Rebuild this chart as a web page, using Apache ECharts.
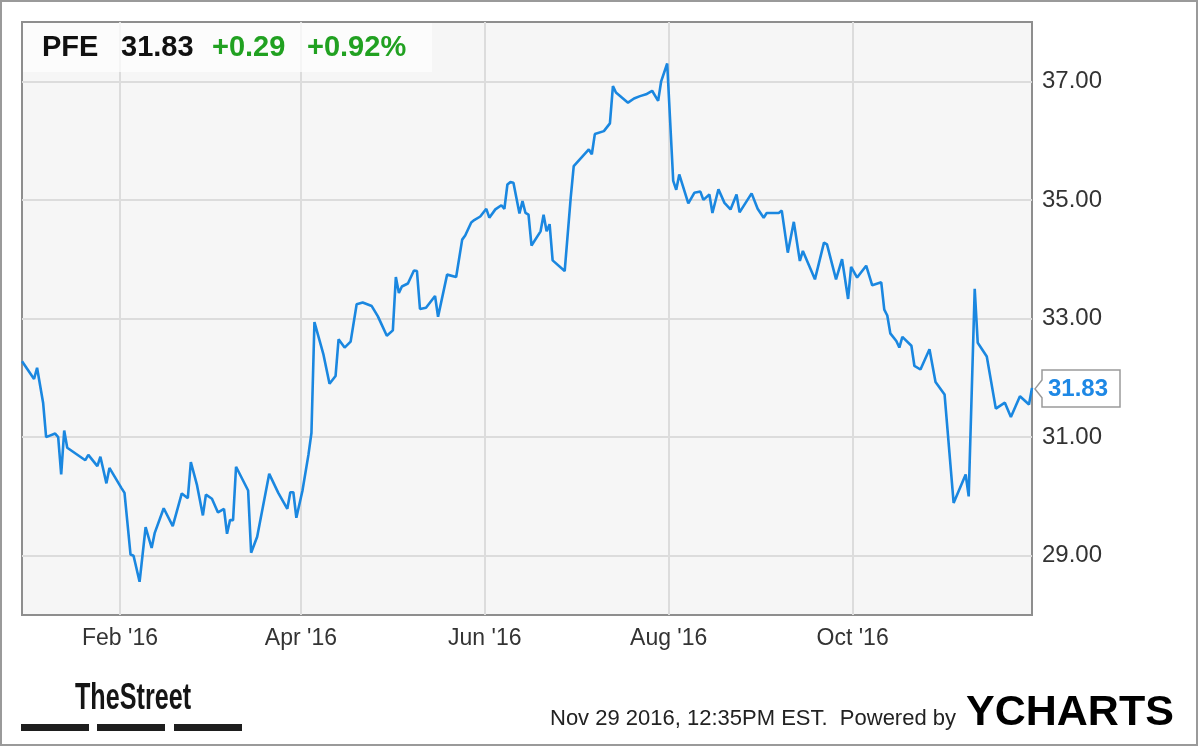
<!DOCTYPE html>
<html><head><meta charset="utf-8">
<script src="https://cdn.jsdelivr.net/npm/echarts@6/dist/echarts.min.js"></script>
<style>html,body{margin:0;padding:0;background:#fff}#c{width:1200px;height:747px}</style>
</head><body><div id="c"></div>
<script>
const ticker = 'PFE';
const lastPrice = '31.83';
const change = '+0.29';
const changePct = '+0.92%';
const footerText = 'Nov 29 2016, 12:35PM EST.  Powered by';
const xStart = '2015-12-30';
const xEnd = '2016-11-29';
const xTickDates = ['2016-02-01','2016-04-01','2016-06-01','2016-08-01','2016-10-01'];
const yTicks = [29, 31, 33, 35, 37];
const monthNames = ['Jan','Feb','Mar','Apr','May','Jun','Jul','Aug','Sep','Oct','Nov','Dec'];

const dates = [
'2015-12-30','2016-01-03','2016-01-04','2016-01-06','2016-01-07','2016-01-10','2016-01-11','2016-01-12','2016-01-13','2016-01-14',
'2016-01-20','2016-01-21','2016-01-24','2016-01-25','2016-01-27','2016-01-28','2016-02-01','2016-02-02','2016-02-04','2016-02-05',
'2016-02-07','2016-02-09','2016-02-11','2016-02-12','2016-02-15','2016-02-18','2016-02-21','2016-02-23','2016-02-24','2016-02-26',
'2016-02-28','2016-02-29','2016-03-02','2016-03-04','2016-03-06','2016-03-07','2016-03-08','2016-03-09','2016-03-10','2016-03-14',
'2016-03-15','2016-03-17','2016-03-21','2016-03-24','2016-03-27','2016-03-28','2016-03-29','2016-03-30','2016-04-01','2016-04-03',
'2016-04-04','2016-04-05','2016-04-08','2016-04-10','2016-04-12','2016-04-13','2016-04-15','2016-04-17','2016-04-19','2016-04-21',
'2016-04-24','2016-04-26','2016-04-27','2016-04-29','2016-05-01','2016-05-02','2016-05-03','2016-05-04','2016-05-06','2016-05-08',
'2016-05-09','2016-05-10','2016-05-12','2016-05-15','2016-05-16','2016-05-19','2016-05-22','2016-05-24','2016-05-25','2016-05-27',
'2016-05-28','2016-05-30','2016-06-01','2016-06-02','2016-06-04','2016-06-06','2016-06-07','2016-06-08','2016-06-09','2016-06-10',
'2016-06-12','2016-06-13','2016-06-14','2016-06-15','2016-06-16','2016-06-19','2016-06-20','2016-06-21','2016-06-22','2016-06-23',
'2016-06-27','2016-06-29','2016-06-30','2016-07-05','2016-07-06','2016-07-07','2016-07-10','2016-07-12','2016-07-13','2016-07-14',
'2016-07-18','2016-07-20','2016-07-22','2016-07-24','2016-07-26','2016-07-28','2016-07-29','2016-07-31','2016-08-02','2016-08-03',
'2016-08-04','2016-08-07','2016-08-09','2016-08-11','2016-08-12','2016-08-14','2016-08-15','2016-08-17','2016-08-19','2016-08-21',
'2016-08-23','2016-08-24','2016-08-28','2016-08-30','2016-09-01','2016-09-02','2016-09-06','2016-09-07','2016-09-09','2016-09-11',
'2016-09-13','2016-09-14','2016-09-18','2016-09-21','2016-09-22','2016-09-25','2016-09-27','2016-09-29','2016-09-30','2016-10-02',
'2016-10-05','2016-10-07','2016-10-10','2016-10-11','2016-10-12','2016-10-13','2016-10-15','2016-10-16','2016-10-17','2016-10-20',
'2016-10-21','2016-10-23','2016-10-26','2016-10-28','2016-10-31','2016-11-03','2016-11-07','2016-11-08','2016-11-10','2016-11-11',
'2016-11-14','2016-11-17','2016-11-20','2016-11-22','2016-11-25','2016-11-28','2016-11-29'
];
const prices = [
32.28,31.98,32.17,31.58,31.00,31.06,31.00,30.37,31.11,30.82,
30.61,30.70,30.51,30.67,30.22,30.48,30.14,30.06,29.02,29.00,
28.56,29.48,29.13,29.38,29.80,29.50,30.05,29.97,30.58,30.20,
29.68,30.03,29.96,29.73,29.79,29.37,29.60,29.60,30.50,30.10,
29.05,29.32,30.38,30.06,29.79,30.07,30.07,29.64,30.09,30.70,
31.07,32.94,32.39,31.90,32.03,32.65,32.51,32.61,33.24,33.27,
33.21,33.04,32.93,32.71,32.80,33.70,33.43,33.54,33.59,33.81,
33.80,33.16,33.18,33.38,33.03,33.74,33.70,34.33,34.40,34.62,
34.66,34.72,34.85,34.70,34.84,34.91,34.85,35.26,35.30,35.29,
34.77,34.98,34.78,34.75,34.23,34.47,34.75,34.47,34.59,33.98,
33.80,35.04,35.57,35.85,35.77,36.11,36.16,36.29,36.92,36.81,
36.64,36.71,36.75,36.78,36.84,36.67,37.00,37.30,35.32,35.17,
35.43,34.94,35.12,35.14,35.00,35.09,34.78,35.18,34.95,34.84,
35.09,34.79,35.11,34.85,34.70,34.78,34.78,34.82,34.11,34.63,
33.97,34.14,33.66,34.28,34.25,33.66,34.00,33.33,33.87,33.69,
33.89,33.56,33.61,33.15,33.05,32.75,32.62,32.51,32.69,32.54,
32.20,32.14,32.48,31.93,31.72,29.89,30.37,30.00,33.50,32.59,
32.36,31.48,31.58,31.34,31.69,31.55,31.83
];

const FONT = '"Liberation Sans", Arial, sans-serif';
function tsNoon(d){ const p = d.split('-').map(Number); return Date.UTC(p[0], p[1]-1, p[2], 12); }
function tsDay(d){ const p = d.split('-').map(Number); return Date.UTC(p[0], p[1]-1, p[2]); }
const seriesData = dates.map((d, i) => [tsNoon(d), prices[i]]);
const xTickVals = xTickDates.map(tsDay);

const chart = echarts.init(document.getElementById('c'), null, {renderer: 'canvas'});
chart.setOption({
  animation: false,
  backgroundColor: '#ffffff',
  grid: {left: 22, right: 168, top: 22, bottom: 132, show: true,
         backgroundColor: '#f6f6f6', borderColor: '#8e8e8e', borderWidth: 2},
  xAxis: {
    type: 'value', min: tsNoon(xStart), max: tsNoon(xEnd),
    axisLine: {show: false},
    axisTick: {show: false, customValues: xTickVals},
    axisLabel: {customValues: xTickVals, color: '#333', fontSize: 23, fontFamily: FONT, margin: 12,
      formatter: v => { const d = new Date(v); return monthNames[d.getUTCMonth()] + " '" + String(d.getUTCFullYear()).slice(2); }},
    splitLine: {show: true, lineStyle: {color: '#dcdcdc', width: 2}}
  },
  yAxis: {
    type: 'value', position: 'right', min: 28, max: 38,
    axisLine: {show: false},
    axisTick: {show: false, customValues: yTicks},
    axisLabel: {customValues: yTicks, color: '#333', fontSize: 24, fontFamily: FONT, margin: 10,
      formatter: v => v.toFixed(2)},
    splitLine: {show: true, lineStyle: {color: '#dcdcdc', width: 2}}
  },
  series: [{
    type: 'line', data: seriesData, showSymbol: false, symbol: 'none',
    lineStyle: {color: '#1a87e0', width: 2.6}, itemStyle: {color: '#1a87e0'}
  }]
});

const lastPt = seriesData[seriesData.length - 1];
const tip = chart.convertToPixel({gridIndex: 0}, lastPt);
const tx = tip[0] + 3, ty = tip[1] + 1;
chart.setOption({
  graphic: [
    {type: 'rect', silent: true, z: 100, shape: {x: 1, y: 1, width: 1196, height: 744},
     style: {fill: 'none', stroke: '#9a9a9a', lineWidth: 2}},
    {type: 'rect', silent: true, z: 90, shape: {x: 23, y: 23, width: 409, height: 49},
     style: {fill: 'rgba(255,255,255,0.7)'}},
    {type: 'text', z: 95, x: 42, y: 48, style: {text: ticker, font: 'bold 29px ' + FONT, fill: '#111', verticalAlign: 'middle'}},
    {type: 'text', z: 95, x: 121, y: 48, style: {text: lastPrice, font: 'bold 29px ' + FONT, fill: '#111', verticalAlign: 'middle'}},
    {type: 'text', z: 95, x: 212, y: 48, style: {text: change, font: 'bold 29px ' + FONT, fill: '#21a121', verticalAlign: 'middle'}},
    {type: 'text', z: 95, x: 307, y: 48, style: {text: changePct, font: 'bold 29px ' + FONT, fill: '#21a121', verticalAlign: 'middle'}},
    {type: 'polygon', z: 95, shape: {points: [[tx, ty], [tx+7, ty-9], [tx+7, ty-19], [tx+85, ty-19], [tx+85, ty+18], [tx+7, ty+18], [tx+7, ty+9]]},
     style: {fill: '#ffffff', stroke: '#9a9a9a', lineWidth: 1.5}},
    {type: 'text', z: 96, x: tx + 13, y: ty, style: {text: lastPrice, font: 'bold 24px ' + FONT, fill: '#1e88e5', verticalAlign: 'middle'}},
    {type: 'text', z: 95, x: 75, y: 699, scaleX: 0.68, style: {text: 'TheStreet', font: 'bold 37px ' + FONT, fill: '#151515', verticalAlign: 'middle'}},
    {type: 'rect', z: 95, shape: {x: 21, y: 724, width: 68, height: 7}, style: {fill: '#1e1e1e'}},
    {type: 'rect', z: 95, shape: {x: 97, y: 724, width: 68, height: 7}, style: {fill: '#1e1e1e'}},
    {type: 'rect', z: 95, shape: {x: 174, y: 724, width: 68, height: 7}, style: {fill: '#1e1e1e'}},
    {type: 'text', z: 95, x: 550, y: 719, style: {text: footerText, font: '22px ' + FONT, fill: '#222', verticalAlign: 'middle'}},
    {type: 'text', z: 95, x: 966, y: 713, style: {text: '{y|Y}{c|CHARTS}', verticalAlign: 'middle',
      rich: {y: {fontFamily: FONT, fontWeight: 'bold', fontSize: 43, color: '#1e8fe8'},
             c: {fontFamily: FONT, fontWeight: 'bold', fontSize: 43, color: '#151515'}}}}
  ]
});
</script>
</body></html>
